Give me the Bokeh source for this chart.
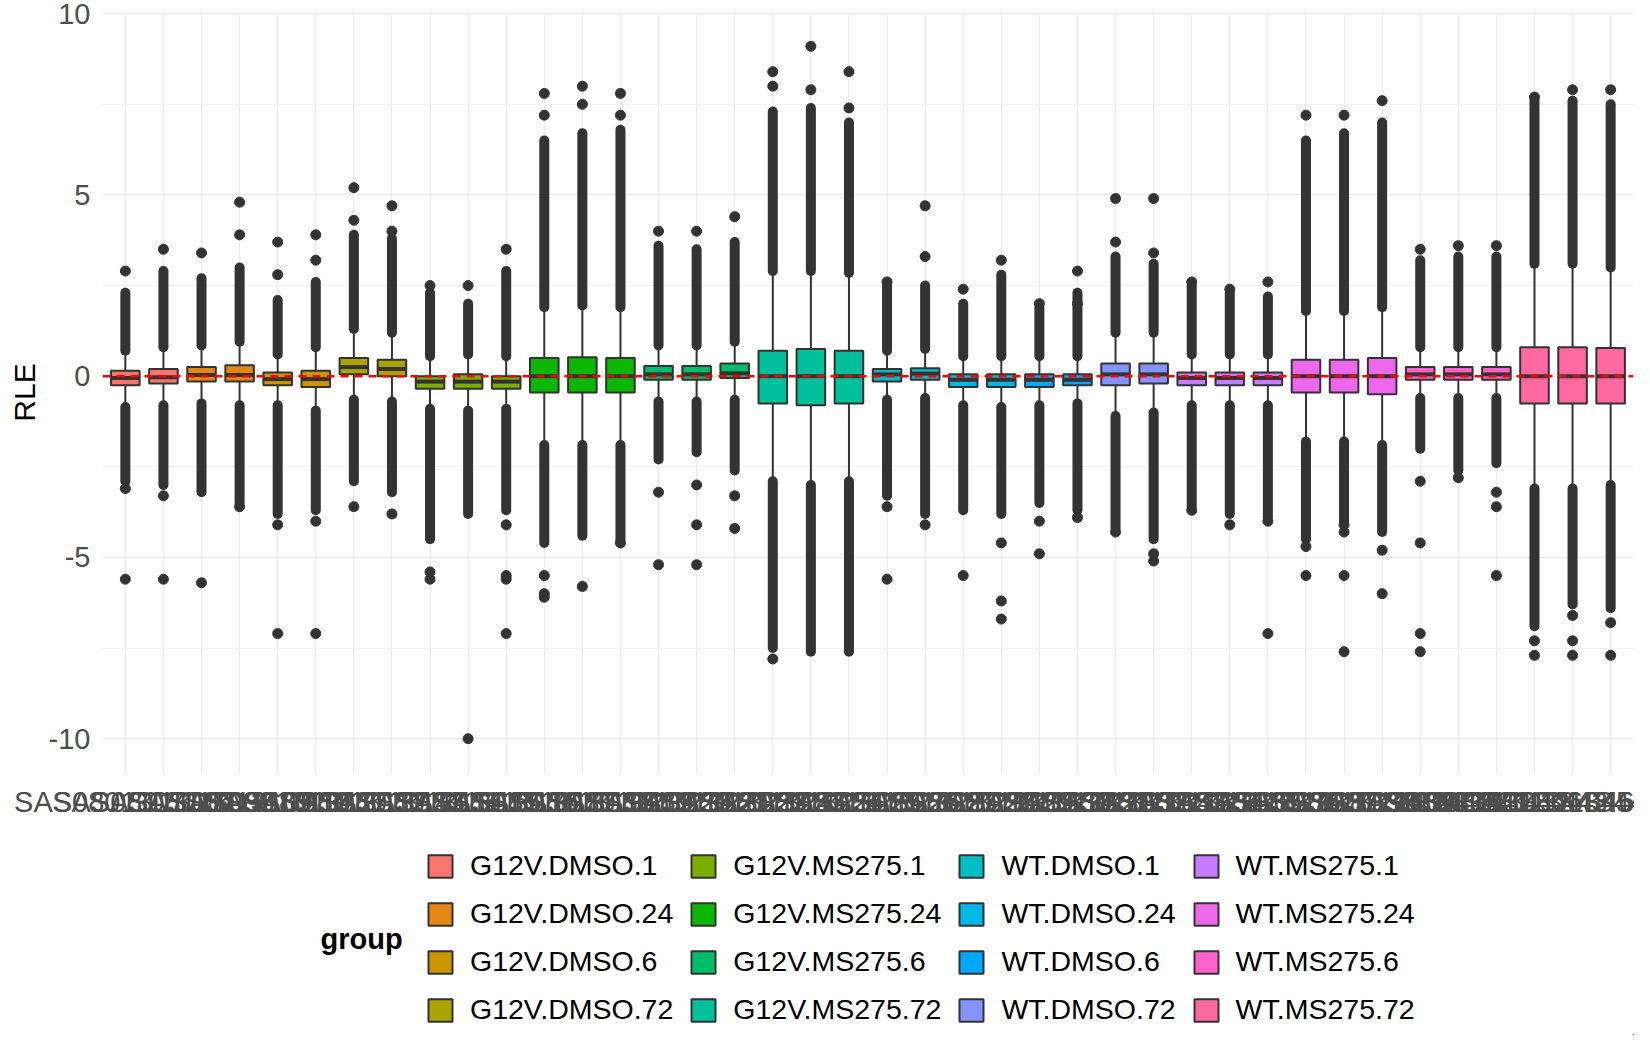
from bokeh.plotting import figure
from bokeh.layouts import column
from bokeh.models import (ColumnDataSource, Span, Legend, LegendItem, FixedTicker, Range1d, Label)
from bokeh.embed import file_html
from bokeh.resources import INLINE

groups = ["G12V.DMSO.1", "G12V.DMSO.24", "G12V.DMSO.6", "G12V.DMSO.72",
          "G12V.MS275.1", "G12V.MS275.24", "G12V.MS275.6", "G12V.MS275.72",
          "WT.DMSO.1", "WT.DMSO.24", "WT.DMSO.6", "WT.DMSO.72",
          "WT.MS275.1", "WT.MS275.24", "WT.MS275.6", "WT.MS275.72"]
group_colors = ["#F8766D", "#E68613", "#CD9600", "#ABA300", "#7CAE00", "#0CB702", "#00BE67", "#00C19A",
                "#00BFC4", "#00B8E7", "#00A9FF", "#8494FF", "#C77CFF", "#ED68ED", "#FF61CC", "#FF68A1"]
group_sizes = [2, 2, 2, 2, 3, 3, 3, 3, 2, 2, 2, 2, 3, 3, 3, 3]

samples = ["SAS0801%03dS%02d" % (300 + i + 7, i + 7) for i in range(40)]
y_ticks = [-10, -5, 0, 5, 10]
y_tick_labels = ["-10", "-5", "0", "5", "10"]

q1 = [-0.25, -0.2, -0.15, -0.15, -0.25, -0.3, 0.05, 0.0, -0.35, -0.35, -0.35, -0.45, -0.45, -0.45, -0.1, -0.1, -0.05,
      -0.75, -0.8, -0.75, -0.15, -0.1, -0.3, -0.3, -0.3, -0.25, -0.25, -0.2, -0.25, -0.25, -0.25, -0.45, -0.45, -0.5,
      -0.1, -0.1, -0.1, -0.75, -0.75, -0.75]
med = [-0.05, -0.03, 0.03, 0.03, -0.08, -0.08, 0.25, 0.2, -0.15, -0.15, -0.15, 0, 0, 0, 0.05, 0.05, 0.08, 0, 0, 0,
       0.05, 0.07, -0.1, -0.1, -0.1, -0.1, 0.05, 0.05, -0.05, -0.05, -0.05, 0, 0, 0, 0.05, 0.05, 0.05, 0, 0, 0]
q3 = [0.15, 0.2, 0.25, 0.3, 0.1, 0.15, 0.5, 0.45, 0.0, 0.05, 0.0, 0.5, 0.52, 0.5, 0.28, 0.28, 0.35, 0.7, 0.75, 0.7,
      0.2, 0.22, 0.05, 0.05, 0.05, 0.05, 0.35, 0.35, 0.1, 0.1, 0.1, 0.45, 0.45, 0.5, 0.25, 0.25, 0.25, 0.8, 0.8, 0.78]
wlo = [-0.85, -0.8, -0.75, -0.8, -0.8, -0.95, -0.65, -0.7, -0.9, -0.95, -0.9, -1.9, -1.9, -1.9, -0.7, -0.7, -0.65,
       -2.9, -3.0, -2.9, -0.65, -0.6, -0.8, -0.85, -0.8, -0.75, -1.1, -1.0, -0.8, -0.8, -0.8, -1.8, -1.8, -1.9,
       -0.6, -0.6, -0.6, -3.1, -3.1, -3.0]
whi = [0.7, 0.8, 0.85, 0.95, 0.6, 0.8, 1.3, 1.2, 0.55, 0.6, 0.55, 1.9, 1.95, 1.9, 0.85, 0.85, 0.95, 2.9, 2.9, 2.85,
       0.7, 0.75, 0.55, 0.55, 0.55, 0.55, 1.2, 1.2, 0.6, 0.6, 0.6, 1.8, 1.8, 1.9, 0.8, 0.8, 0.8, 3.1, 3.1, 3.0]
dense_hi = [2.3, 2.9, 2.7, 3.0, 2.1, 2.6, 3.9, 3.8, 2.3, 2.0, 2.9, 6.5, 6.7, 6.8, 3.6, 3.5, 3.7, 7.3, 7.4, 7.0,
            2.5, 2.5, 2.0, 2.8, 1.9, 2.3, 3.3, 3.1, 2.5, 2.3, 2.2, 6.5, 6.7, 7.0, 3.2, 3.3, 3.3, 7.6, 7.6, 7.5]
dense_lo = [-2.9, -3.0, -3.2, -3.5, -3.8, -3.7, -2.9, -3.2, -4.5, -3.8, -3.7, -4.6, -4.4, -4.6, -2.3, -2.1, -2.6,
            -7.5, -7.6, -7.6, -3.3, -3.8, -3.7, -3.8, -3.5, -3.7, -4.2, -4.5, -3.6, -3.8, -3.9, -4.5, -4.0, -4.3,
            -2.0, -2.6, -2.4, -6.9, -6.3, -6.4]
sparse_idx = [0, 0, 0, 1, 1, 1, 2, 2, 3, 3, 3, 4, 4, 4, 4, 5, 5, 5, 5, 6, 6, 6, 7, 7, 7,
              8, 8, 8, 9, 9, 10, 10, 10, 10, 10, 11, 11, 11, 11, 11, 12, 12, 12, 13, 13, 13,
              14, 14, 14, 15, 15, 15, 15, 16, 16, 16, 17, 17, 17, 18, 18, 19, 19,
              20, 20, 20, 21, 21, 21, 22, 22, 23, 23, 23, 23, 24, 24, 24, 25, 25, 25,
              26, 26, 26, 27, 27, 27, 27, 28, 28, 29, 29, 30, 30, 30,
              31, 31, 31, 32, 32, 32, 32, 32, 33, 33, 33, 34, 34, 34, 34, 34, 35, 35, 36, 36, 36, 36,
              37, 37, 37, 38, 38, 38, 38, 39, 39, 39]
sparse_y = [2.9, -3.1, -5.6, 3.5, -3.3, -5.6, 3.4, -5.7, 3.9, 4.8, -3.6, 2.8, 3.7, -4.1, -7.1, 3.2, 3.9, -4.0, -7.1,
            4.3, 5.2, -3.6, 4.0, 4.7, -3.8,
            2.5, -5.4, -5.6, 2.5, -10.0, 3.5, -4.1, -5.5, -5.6, -7.1, 7.2, 7.8, -5.5, -6.0, -6.1, 7.5, 8.0, -5.8,
            7.2, 7.8, -4.6,
            4.0, -3.2, -5.2, 4.0, -3.0, -4.1, -5.2, 4.4, -3.3, -4.2, 8.0, 8.4, -7.8, 9.1, 7.9, 7.4, 8.4,
            2.6, -3.6, -5.6, 3.3, 4.7, -4.1, 2.4, -5.5, 3.2, -4.6, -6.2, -6.7, 2.0, -4.0, -4.9, 2.9, -3.9, 2.0,
            3.7, 4.9, -4.3, 3.4, 4.9, -4.9, -5.1, 2.6, -3.7, 2.4, -4.1, 2.6, -4.0, -7.1,
            7.2, -4.7, -5.5, 7.2, -4.3, -5.5, -7.6, -4.1, 7.6, -4.8, -6.0, 3.5, -2.9, -4.6, -7.1, -7.6, 3.6, -2.8,
            3.6, -3.2, -3.6, -5.5,
            7.7, -7.3, -7.7, 7.9, -6.6, -7.3, -7.7, 7.9, -6.8, -7.7]

sample_group = []
for g, n in enumerate(group_sizes):
    sample_group += [g] * n
xs = list(range(len(samples)))
fill = [group_colors[g] for g in sample_group]

FONT = "Liberation Sans"
dark = "#333333"
p = figure(frame_width=1531, frame_height=762,
           x_range=Range1d(-0.6, 39.6), y_range=Range1d(-10.96, 10.06),
           output_backend="svg", toolbar_location=None,
           min_border_left=102, min_border_top=11, min_border_right=1, min_border_bottom=0)
p.outline_line_color = None
p.background_fill_color = "white"

p.xaxis.ticker = FixedTicker(ticks=xs)
p.xaxis.major_label_overrides = {i: s for i, s in enumerate(samples)}
p.yaxis.ticker = FixedTicker(ticks=y_ticks, minor_ticks=[-7.5, -2.5, 2.5, 7.5])
p.yaxis.major_label_overrides = {t: l for t, l in zip(y_ticks, y_tick_labels)}
for ax in (p.xaxis[0], p.yaxis[0]):
    ax.axis_line_color = None
    ax.major_tick_line_color = None
    ax.minor_tick_line_color = None
    ax.major_label_text_font = FONT
    ax.major_label_text_font_size = "29px"
    ax.major_label_text_color = "#4D4D4D"
p.xaxis.major_label_standoff = 6
p.yaxis.major_label_standoff = 6
p.yaxis.axis_label = "RLE"
p.yaxis.axis_label_text_font = FONT
p.yaxis.axis_label_text_font_size = "30px"
p.yaxis.axis_label_text_font_style = "normal"
p.yaxis.axis_label_text_color = "black"
p.xgrid.grid_line_color = "#EBEBEB"
p.ygrid.grid_line_color = "#EBEBEB"
p.ygrid.minor_grid_line_color = "#F3F3F3"

src = ColumnDataSource(dict(x=xs, q1=q1, med=med, q3=q3, wlo=wlo, whi=whi,
                            dhi=dense_hi, dlo=dense_lo, fill=fill))
p.segment("x", "q3", "x", "whi", source=src, line_color=dark, line_width=2)
p.segment("x", "wlo", "x", "q1", source=src, line_color=dark, line_width=2)
p.segment("x", "whi", "x", "dhi", source=src, line_color=dark, line_width=10, line_cap="round")
p.segment("x", "dlo", "x", "wlo", source=src, line_color=dark, line_width=10, line_cap="round")
p.scatter([xs[i] for i in sparse_idx], sparse_y, size=10, color=dark)
p.vbar(x="x", width=0.75, bottom="q1", top="q3", source=src, fill_color="fill",
       line_color=dark, line_width=2)
p.segment(x0=[x - 0.375 for x in xs], y0=med, x1=[x + 0.375 for x in xs], y1=med,
          line_color=dark, line_width=4)
p.add_layout(Span(location=0, dimension="width", line_color="red", line_dash="8 6", line_width=2.5))

# legend panel
lf = figure(width=1634, height=215, x_range=Range1d(0, 1), y_range=Range1d(0, 1),
            output_backend="svg", toolbar_location=None,
            min_border_left=0, min_border_right=0, min_border_top=0, min_border_bottom=0)
lf.axis.visible = False
lf.grid.visible = False
lf.outline_line_color = None
items = []
for g, c in zip(groups, group_colors):
    r = lf.vbar(x=[5], bottom=[-3], top=[-2], width=0.1, fill_color=c, line_color=dark, line_width=2)
    items.append(LegendItem(label=g, renderers=[r]))
legend = Legend(items=items, ncols=4, location=(323, 9), padding=0, margin=0, spacing=15,
                glyph_width=30, glyph_height=28, label_height=28, label_standoff=15,
                label_text_font=FONT, label_text_font_size="28.5px", label_text_color="black",
                border_line_color=None, background_fill_alpha=0)
lf.add_layout(legend, "center")
lf.add_layout(Label(x=218, y=97, x_units="screen", y_units="screen", text="group",
                    text_font=FONT, text_font_size="29px", text_font_style="bold",
                    text_baseline="middle", text_color="black"))

open("out.html", "w").write(file_html(column(p, lf, spacing=0), INLINE))
